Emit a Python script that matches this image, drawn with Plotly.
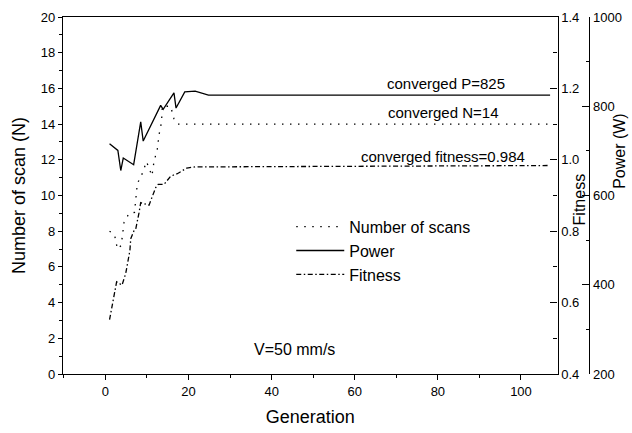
import plotly.graph_objects as go

# Number of scans per generation
gen_scans = [1, 2.2, 2.9, 3.8, 4.5, 5.7, 7.0, 7.7, 8.5, 9.9, 11.2, 11.7, 12.5, 12.9, 13.5, 13.7, 15.7, 16.5, 17.3, 107]
scans = [8.0, 7.8, 7.0, 7.2, 8.5, 9.0, 9.05, 10.7, 11.0, 11.9, 11.1, 11.9, 12.6, 13.4, 14.1, 15.0, 15.0, 14.3, 14.0, 14.0]

# Laser power (W) per generation
gen_power = [1, 3, 3.7, 4.3, 6.8, 8.5, 9.1, 13.3, 13.9, 16.5, 17, 19.1, 21.6, 24.8, 107]
power = [716, 701, 656, 684, 669, 765, 722, 802, 793, 830, 796, 832, 834, 825, 825]

# Best fitness per generation
gen_fit = [1, 2.1, 2.7, 4.0, 4.9, 5.9, 6.1, 6.9, 7.3, 8.1, 8.5, 10.5, 12.1, 12.7, 14.1, 15.7, 17.3, 19.6, 21.6, 107]
fitness = [0.552, 0.626, 0.658, 0.649, 0.682, 0.746, 0.779, 0.802, 0.806, 0.852, 0.88, 0.873, 0.922, 0.931, 0.931, 0.954, 0.961, 0.977, 0.98, 0.984]

conv_power = 825
conv_scans = 14
conv_fitness = 0.984

FONT = "Liberation Sans, Arial, sans-serif"
INK = "black"

fig = go.Figure()
fig.add_trace(go.Scatter(
    x=gen_scans, y=scans, name="Number of scans", mode="lines", yaxis="y",
    line=dict(color=INK, width=1.3, dash="1.5px,6.5px")))
fig.add_trace(go.Scatter(
    x=gen_power, y=power, name="Power", mode="lines", yaxis="y3",
    line=dict(color=INK, width=1.3)))
fig.add_trace(go.Scatter(
    x=gen_fit, y=fitness, name="Fitness", mode="lines", yaxis="y2",
    line=dict(color=INK, width=1.3, dash="5px,2.5px,1.5px,2.5px")))

axis_common = dict(showline=True, linecolor=INK, linewidth=1.2, showgrid=False,
                   zeroline=False, tickcolor=INK, tickwidth=1.2,
                   tickfont=dict(family=FONT, size=13, color=INK))

fig.update_layout(
    width=632, height=433,
    margin=dict(l=63, r=10, t=14, b=58),
    paper_bgcolor="white", plot_bgcolor="white",
    font=dict(family=FONT, color=INK),
    showlegend=True,
    legend=dict(x=0.412, y=0.46, xanchor="left", yanchor="top",
                bgcolor="rgba(0,0,0,0)", borderwidth=0,
                font=dict(family=FONT, size=16, color=INK),
                itemwidth=48, tracegroupgap=0),
    xaxis=dict(domain=[0, 0.8927], range=[-10.2, 108.8], dtick=20, tick0=0,
               ticks="outside", ticklen=5, mirror=True,
               minor=dict(dtick=10, ticks="outside", ticklen=3, tickcolor=INK, tickwidth=1.2),
               title=dict(text="Generation", font=dict(family=FONT, size=18, color=INK), standoff=12),
               **axis_common),
    yaxis=dict(range=[0, 20], dtick=2, tick0=0, ticks="outside", ticklen=4,
               minor=dict(dtick=1, ticks="outside", ticklen=3, tickcolor=INK, tickwidth=1.2),
               title=dict(text="Number of scan (N)", font=dict(family=FONT, size=18, color=INK), standoff=10),
               **axis_common),
    yaxis2=dict(overlaying="y", side="right", anchor="x", range=[0.4, 1.4], dtick=0.2,
                tick0=0.4, tickformat=".1f", ticks="inside", ticklen=7,
                minor=dict(dtick=0.1, ticks="inside", ticklen=4, tickcolor=INK, tickwidth=1.2),
                **axis_common),
    yaxis3=dict(overlaying="y", side="right", anchor="free", position=0.9499,
                range=[200, 1000], dtick=200, tick0=200, ticks="inside", ticklen=7,
                minor=dict(dtick=100, ticks="inside", ticklen=3, tickcolor=INK, tickwidth=1.2),
                **axis_common),
)

# Right-hand axis titles
fig.add_annotation(text="Fitness", xref="paper", yref="paper", x=(584 - 63) / 559, y=0.49,
                   xanchor="center", yanchor="middle",
                   textangle=-90, showarrow=False, font=dict(family=FONT, size=16, color=INK))
fig.add_annotation(text="Power (W)", xref="paper", yref="y3", x=(625 - 63) / 559, y=700,
                   xanchor="center", yanchor="middle",
                   textangle=-90, showarrow=False, font=dict(family=FONT, size=16, color=INK))

# Converged values written just above each plateau
fig.add_annotation(text=f"converged P={conv_power}", x=82, y=conv_power, yref="y3",
                   yanchor="middle", yshift=12, showarrow=False,
                   font=dict(family=FONT, size=15, color=INK))
fig.add_annotation(text=f"converged N={conv_scans}", x=81.3, y=conv_scans, yref="y",
                   yanchor="middle", yshift=12, showarrow=False,
                   font=dict(family=FONT, size=15, color=INK))
fig.add_annotation(text=f"converged fitness={conv_fitness}", x=81.3, y=conv_fitness, yref="y2",
                   yanchor="middle", yshift=9, showarrow=False,
                   font=dict(family=FONT, size=15, color=INK))

fig.add_annotation(text="V=50 mm/s", x=45.6, y=1.4, yref="y", showarrow=False,
                   font=dict(family=FONT, size=16, color=INK))

fig.write_html("out.html")
